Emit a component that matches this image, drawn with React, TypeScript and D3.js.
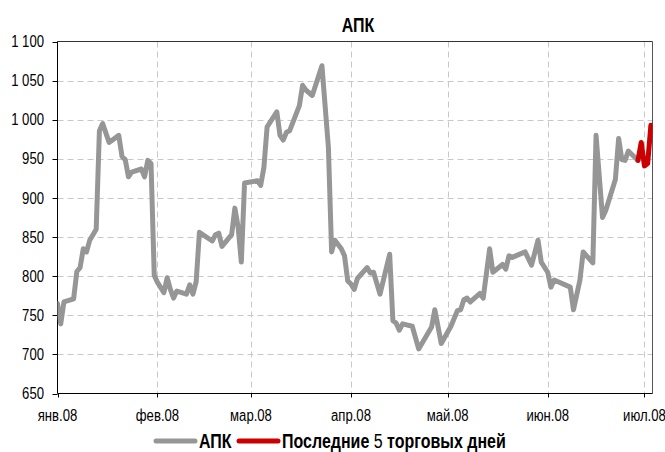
import React from "react";
import * as d3 from "d3";

// Data: trading day offsets from 1 Jan 2008 and index values
const grayDays = [
  0, 1, 2, 5, 6, 7, 8, 9, 10, 12, 13, 14, 16, 19, 20, 21, 22, 23, 26, 27, 28, 29,
  30, 31, 33, 34, 35, 36, 37, 40, 41, 42, 43, 44, 48, 49, 50, 51, 54, 55, 56, 57,
  58, 62, 63, 64, 65, 68, 69, 70, 71, 72, 75, 76, 77, 79, 82, 84, 85, 86, 88, 89,
  90, 91, 92, 93, 96, 97, 98, 100, 103, 104, 105, 106, 107, 110, 112, 116, 117, 119,
  122, 124, 125, 126, 127, 128, 131, 132, 134, 135, 138, 139, 140, 141, 145, 147,
  149, 150, 152, 153, 154, 159, 160, 162, 163, 166, 167, 169, 170, 173, 174, 175,
  176, 177, 179, 180,
];
const grayValues = [
  765, 739, 767, 771, 806, 811, 835, 831, 846, 860, 986, 995, 971, 980, 953, 949, 927, 933, 937, 927, 948, 944,
  801, 792, 779, 798, 783, 772, 781, 777, 789, 777, 793, 856, 845, 853, 855, 838, 853, 887, 863, 818,
  919, 922, 916, 939, 991, 1010, 980, 974, 984, 986, 1018, 1044, 1038, 1031, 1069, 965, 831, 846, 835, 826,
  794, 790, 783, 797, 811, 804, 805, 777, 828, 743, 740, 731, 739, 736, 707, 735, 757, 714,
  736, 756, 757, 770, 772, 767, 778, 772, 835, 805, 815, 809, 826, 824, 831, 814,
  846, 818, 805, 786, 795, 786, 757, 795, 831, 817, 980, 875, 884, 924, 976, 949,
  948, 960, 952, 948,
];
const redDays = [180, 181, 182, 183, 184];
const redValues = [948, 971, 941, 944, 993];

const monthLabels = ["янв.08", "фев.08", "мар.08", "апр.08", "май.08", "июн.08", "июл.08"];
const yTicks = [650, 700, 750, 800, 850, 900, 950, 1000, 1050, 1100];
const title = "АПК";
const seriesNames = ["АПК", "Последние", "5", "торговых дней"];

const W = 665;
const H = 452;
const left = 57.5;
const right = 652.5;
const top = 41.5;
const bottom = 393.5;
const FONT = "'Liberation Sans', Arial, sans-serif";
const SQ = 0.82;

const START = new Date(2008, 0, 1);
const dayToDate = (d: number) => new Date(START.getTime() + d * 864e5);

function NText(props: {
  x: number;
  y: number;
  size: number;
  anchor?: "start" | "middle" | "end";
  bold?: boolean;
  dy?: string;
  children: React.ReactNode;
}) {
  return (
    <g transform={`translate(${props.x},${props.y}) scale(${SQ},1)`}>
      <text
        x={0}
        y={0}
        dy={props.dy}
        textAnchor={props.anchor || "start"}
        fontFamily={FONT}
        fontSize={props.size}
        fontWeight={props.bold ? "bold" : "normal"}
        fill="#000"
      >
        {props.children}
      </text>
    </g>
  );
}

export default function App() {
  const x = d3.scaleTime().domain([START, dayToDate(184.5)]).range([left, right]);
  const y = d3.scaleLinear().domain([650, 1100]).range([bottom, top]);
  const months = d3.timeMonth.range(START, dayToDate(184.5));
  const fmt = d3.formatLocale({ decimal: ",", thousands: "\u00a0", grouping: [3], currency: ["", ""] }).format(",");

  const line = d3
    .line<[number, number]>()
    .x((p) => x(dayToDate(p[0])))
    .y((p) => y(p[1]));
  const grayPts = grayDays.map((d, i) => [d, grayValues[i]] as [number, number]);
  const redPts = redDays.map((d, i) => [d, redValues[i]] as [number, number]);

  const gridColor = "#c8c8c8";
  return (
    <svg width={W} height={H} style={{ display: "block", position: "absolute", left: 0, top: 0 }}>
      <defs>
        <clipPath id="plotClip">
          <rect x={left} y={top - 3} width={right - left} height={bottom - top + 3} />
        </clipPath>
      </defs>
      <rect x={0} y={0} width={W} height={H} fill="#fff" />
      {/* horizontal grid */}
      {yTicks
        .filter((t) => t !== 650 && t !== 1100)
        .map((t) => (
          <line key={"h" + t} x1={left} x2={right} y1={Math.round(y(t)) + 0.5} y2={Math.round(y(t)) + 0.5}
            stroke={gridColor} strokeWidth={1} strokeDasharray="6,4" />
        ))}
      {/* vertical grid */}
      {months.slice(1).map((m, i) => (
        <line key={"v" + i} x1={Math.round(x(m)) + 0.5} x2={Math.round(x(m)) + 0.5} y1={top} y2={bottom}
          stroke={gridColor} strokeWidth={1} strokeDasharray="6,4" />
      ))}
      {/* plot border */}
      <line x1={left} x2={right} y1={top} y2={top} stroke="#333" strokeWidth={1} />
      <line x1={right} x2={right} y1={top} y2={bottom} stroke="#555" strokeWidth={1} />
      {/* axes */}
      <line x1={left} x2={left} y1={top} y2={bottom} stroke="#000" strokeWidth={1} />
      <line x1={left} x2={right} y1={bottom} y2={bottom} stroke="#000" strokeWidth={1} />
      {yTicks.map((t) => (
        <g key={"yt" + t}>
          <line x1={left - 5} x2={left} y1={Math.round(y(t)) + 0.5} y2={Math.round(y(t)) + 0.5} stroke="#000" />
          <NText x={44} y={y(t)} dy="0.35em" anchor="end" size={16}>
            {fmt(t)}
          </NText>
        </g>
      ))}
      {months.map((m, i) => (
        <g key={"xt" + i}>
          <line x1={Math.round(x(m)) + 0.5} x2={Math.round(x(m)) + 0.5} y1={bottom} y2={bottom + 4} stroke="#000" />
          <NText x={x(m)} y={421} anchor="middle" size={16}>
            {monthLabels[i]}
          </NText>
        </g>
      ))}
      {/* series */}
      <g clipPath="url(#plotClip)">
        <path d={line(grayPts) || ""} fill="none" stroke="#969696" strokeWidth={5} strokeLinejoin="round" strokeLinecap="round" />
        <path d={line(redPts) || ""} fill="none" stroke="#cc0000" strokeWidth={5} strokeLinejoin="round" strokeLinecap="round" />
      </g>
      {/* title */}
      <NText x={358} y={32} anchor="middle" bold size={19.5}>
        {title}
      </NText>
      {/* legend */}
      <line x1={156} x2={195} y1={441} y2={441} stroke="#969696" strokeWidth={5} strokeLinecap="round" />
      <NText x={199} y={447.5} bold size={19.5}>
        {seriesNames[0]}
      </NText>
      <line x1={239} x2={278} y1={441} y2={441} stroke="#cc0000" strokeWidth={5} strokeLinecap="round" />
      <NText x={282} y={447.5} size={19.5}>
        <tspan fontWeight="bold">{seriesNames[1]}</tspan>
        <tspan> {seriesNames[2]} </tspan>
        <tspan fontWeight="bold">{seriesNames[3]}</tspan>
      </NText>
    </svg>
  );
}
